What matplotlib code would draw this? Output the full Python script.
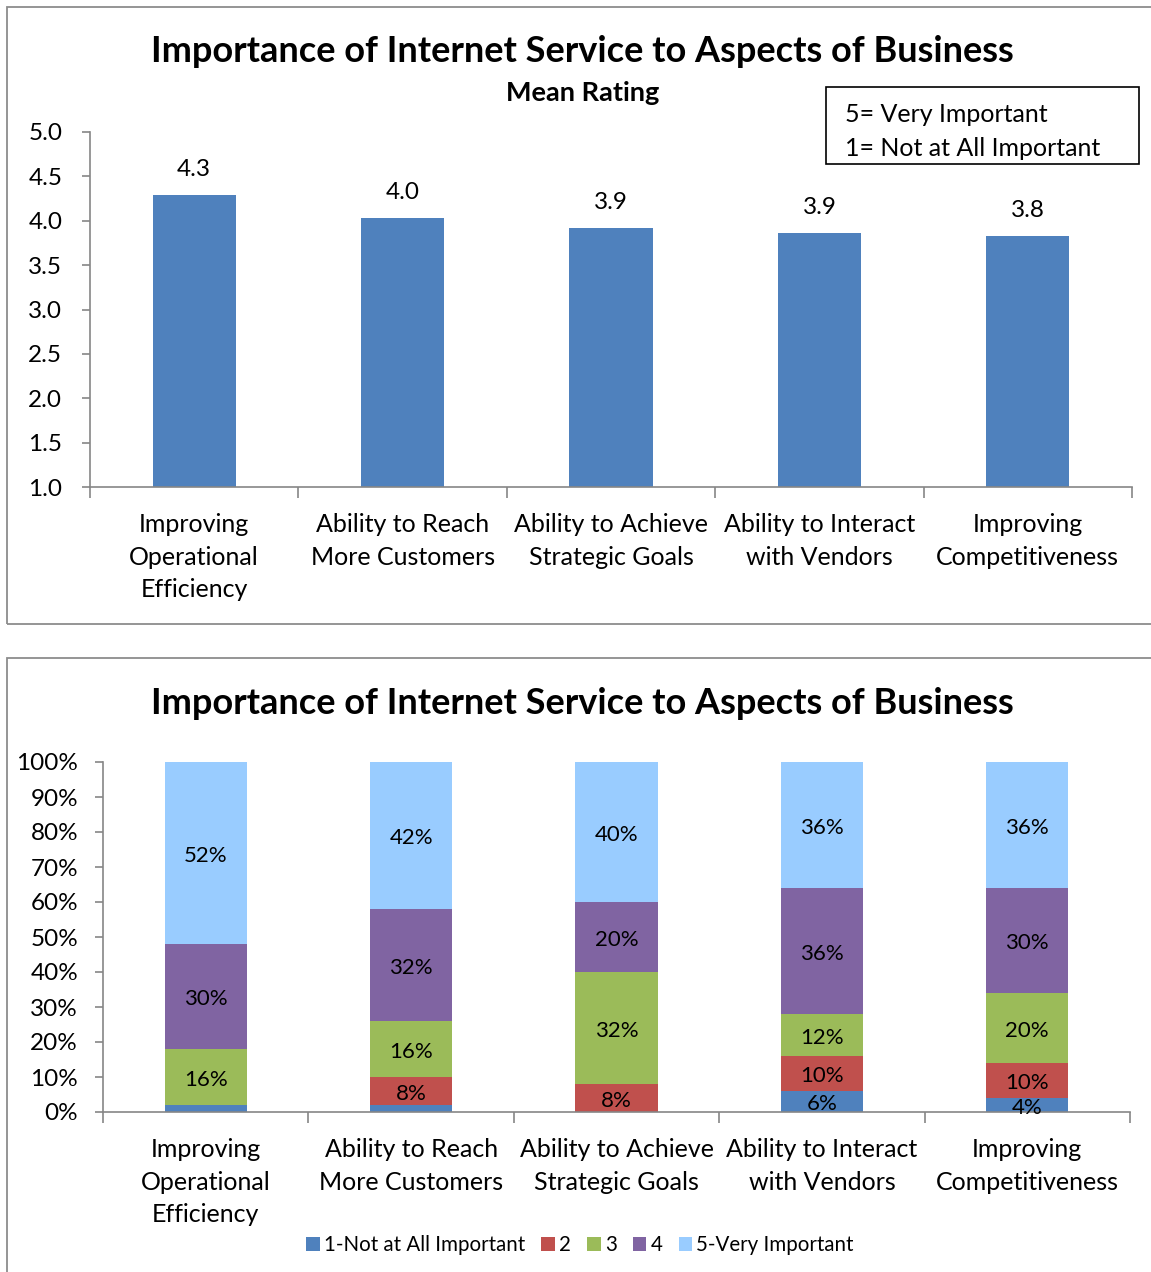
import matplotlib
matplotlib.use("Agg")
import matplotlib.pyplot as plt
from matplotlib.patches import Rectangle
import numpy as np

plt.rcParams["font.family"] = ["Lato", "DejaVu Sans"]

categories = [
    "Improving\nOperational\nEfficiency",
    "Ability to Reach\nMore Customers",
    "Ability to Achieve\nStrategic Goals",
    "Ability to Interact\nwith Vendors",
    "Improving\nCompetitiveness",
]
mean_rating = [4.29, 4.03, 3.92, 3.86, 3.83]

levels = ["1-Not at All Important", "2", "3", "4", "5-Very Important"]
pct_1 = [2, 2, 0, 6, 4]
pct_2 = [0, 8, 8, 10, 10]
pct_3 = [16, 16, 32, 12, 20]
pct_4 = [30, 32, 20, 36, 30]
pct_5 = [52, 42, 40, 36, 36]
level_colors = ["#4F81BD", "#C0504D", "#9BBB59", "#8064A2", "#99CCFF"]

W, H = 1151, 1272
fig = plt.figure(figsize=(W / 100, H / 100), dpi=100)
AXIS_GRAY = "#868686"


def px_axes(left, top, right, bottom):
    return fig.add_axes([left / W, (H - bottom) / H, (right - left) / W, (bottom - top) / H])


def frame(left, top, right, bottom):
    fig.patches.append(Rectangle((left / W, (H - bottom) / H), (right - left) / W,
                                 (bottom - top) / H, transform=fig.transFigure,
                                 fill=False, edgecolor="#8C8C8C", linewidth=1.3))


def style_axes(ax, n):
    for side in ("top", "right"):
        ax.spines[side].set_visible(False)
    for side in ("left", "bottom"):
        ax.spines[side].set_color(AXIS_GRAY)
        ax.spines[side].set_linewidth(1.2)
    ax.set_xlim(-0.5, n - 0.5)
    ax.set_xticks(range(n))
    ax.set_xticklabels(categories, fontsize=18, linespacing=1.5)
    ax.set_xticks(np.arange(-0.5, n, 1.0), minor=True)
    ax.tick_params(axis="x", which="major", length=0, pad=19)
    ax.tick_params(axis="x", which="minor", length=8, color=AXIS_GRAY, width=1.2)
    ax.tick_params(axis="y", length=6, color=AXIS_GRAY, width=1.2, labelsize=17.5, pad=12)


n = len(categories)
x = np.arange(n)

# --- mean rating chart ---
frame(7, 7, 1160, 624)
ax1 = px_axes(90, 132, 1132, 487)
style_axes(ax1, n)
ax1.bar(x, [v - 1.0 for v in mean_rating], bottom=1.0, width=0.4, color="#4F81BD")
ax1.set_ylim(1.0, 5.0)
ax1.set_yticks(np.arange(1.0, 5.01, 0.5))
ax1.set_yticklabels([f"{t:.1f}" for t in np.arange(1.0, 5.01, 0.5)])
ax1.tick_params(axis="y", pad=14)
for xi, v in zip(x, mean_rating):
    ax1.text(xi, v + 0.17, f"{v:.1f}", ha="center", va="bottom", fontsize=17.5)

fig.text(582 / W, 1 - 52 / H, "Importance of Internet Service to Aspects of Business",
         ha="center", va="center", fontsize=26, fontweight="bold")
fig.text(583 / W, 1 - 93 / H, "Mean Rating", ha="center", va="center",
         fontsize=19.5, fontweight="bold")
fig.patches.append(Rectangle((826 / W, 1 - 164 / H), (1139 - 826) / W, (164 - 87) / H,
                             transform=fig.transFigure, fill=False,
                             edgecolor="black", linewidth=1.2))
fig.text(845 / W, 1 - 114 / H, "5= Very Important", ha="left", va="center", fontsize=18)
fig.text(845 / W, 1 - 148 / H, "1= Not at All Important", ha="left", va="center", fontsize=18)

# --- distribution chart ---
frame(7, 658, 1160, 1290)
ax2 = px_axes(103, 762, 1130, 1112)
style_axes(ax2, n)
bottom = np.zeros(n)
handles = []
for label, vals, color in zip(levels, [pct_1, pct_2, pct_3, pct_4, pct_5], level_colors):
    vals = np.array(vals, dtype=float)
    bars = ax2.bar(x, vals, bottom=bottom, width=0.4, color=color, label=label)
    handles.append(bars)
    for xi, b, v in zip(x, bottom, vals):
        if v > 2:
            ax2.text(xi, b + v / 2 - 0.8, f"{v:.0f}%", ha="center", va="center", fontsize=16)
    bottom += vals
ax2.set_ylim(0, 100)
ax2.set_yticks(range(0, 101, 10))
ax2.set_yticklabels([f"{t}%" for t in range(0, 101, 10)])

fig.text(582 / W, 1 - 704 / H, "Importance of Internet Service to Aspects of Business",
         ha="center", va="center", fontsize=26, fontweight="bold")
fig.legend(handles=handles, loc="center", bbox_to_anchor=(580 / W, 1 - 1245 / H),
           ncol=5, frameon=False, fontsize=14.8, handlelength=0.65, handleheight=0.65,
           handletextpad=0.2, columnspacing=0.8)

fig.savefig("out.png", dpi=100)
